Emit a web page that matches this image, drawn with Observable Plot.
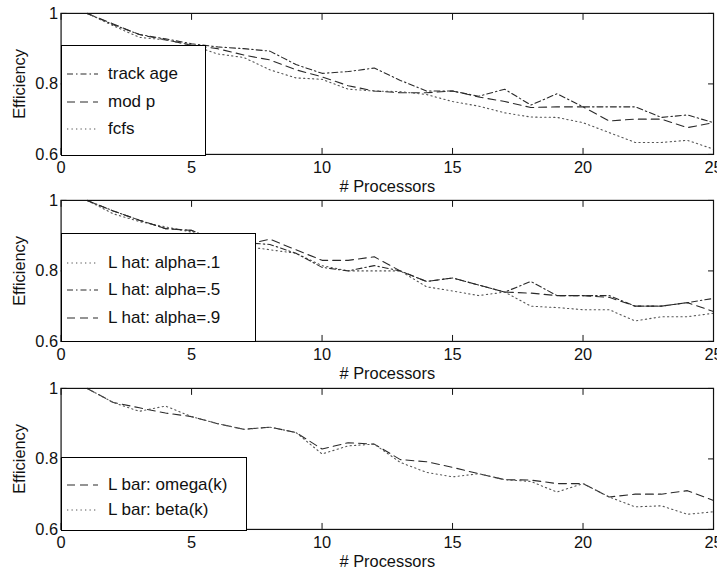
<!DOCTYPE html>
<html><head><meta charset="utf-8">
<script src="https://cdn.jsdelivr.net/npm/d3@7"></script>
<script src="https://cdn.jsdelivr.net/npm/@observablehq/plot@0.6"></script>
<style>
html,body{margin:0;padding:0;background:#fff;overflow:hidden;width:717px;height:573px;}
#root{position:relative;width:717px;height:573px;overflow:hidden;font-family:"Liberation Sans",Arial,Helvetica,sans-serif;}
.panel{position:absolute;left:0;}
.legend{position:absolute;background:#fff;border:1px solid #000;box-sizing:border-box;}
.legend .row{position:absolute;left:0;height:20px;display:flex;align-items:center;font-size:17px;color:#111;white-space:nowrap;}
.legend svg{margin-left:5px;margin-right:10px;}
</style></head><body><div id="root"></div>
<script>
// ---- data ----
const processors = [1,2,3,4,5,6,7,8,9,10,11,12,13,14,15,16,17,18,19,20,21,22,23,24,25];
const trackAge = [1.0,0.968,0.94,0.928,0.914,0.905,0.90,0.893,0.855,0.83,0.835,0.845,0.81,0.78,0.78,0.765,0.785,0.74,0.772,0.735,0.735,0.735,0.705,0.712,0.69];
const modP     = [1.0,0.97,0.94,0.925,0.91,0.90,0.882,0.868,0.84,0.82,0.795,0.78,0.775,0.775,0.78,0.763,0.75,0.733,0.735,0.735,0.695,0.70,0.70,0.676,0.69];
const fcfs     = [1.0,0.965,0.932,0.925,0.91,0.885,0.875,0.84,0.817,0.813,0.785,0.78,0.778,0.77,0.75,0.737,0.718,0.706,0.705,0.69,0.662,0.634,0.634,0.64,0.615];
const alpha1   = [1.0,0.962,0.94,0.925,0.91,0.885,0.87,0.86,0.85,0.815,0.80,0.80,0.80,0.755,0.743,0.73,0.74,0.70,0.696,0.69,0.69,0.658,0.67,0.67,0.68];
const alpha5   = [1.0,0.97,0.944,0.92,0.915,0.885,0.88,0.875,0.85,0.81,0.80,0.815,0.80,0.77,0.78,0.76,0.74,0.77,0.73,0.73,0.73,0.70,0.70,0.71,0.722];
const alpha9   = [1.0,0.97,0.944,0.92,0.915,0.88,0.873,0.89,0.86,0.83,0.83,0.84,0.80,0.77,0.78,0.76,0.74,0.737,0.73,0.73,0.725,0.70,0.70,0.71,0.685];
const omegaK   = [1.0,0.96,0.945,0.93,0.92,0.90,0.884,0.89,0.875,0.828,0.846,0.842,0.798,0.792,0.776,0.758,0.741,0.74,0.73,0.73,0.692,0.70,0.70,0.71,0.682];
const betaK    = [1.0,0.96,0.935,0.95,0.92,0.90,0.884,0.89,0.875,0.814,0.837,0.842,0.79,0.762,0.749,0.758,0.741,0.736,0.706,0.73,0.692,0.664,0.667,0.643,0.65];
const xTicks = [0,5,10,15,20,25];
const yTicks = [0.6,0.8,1];
const xLabel = "# Processors";
const yLabel = "Efficiency";
const panel1Names = ["track age","mod p","fcfs"];
const panel2Names = ["L hat: alpha=.1","L hat: alpha=.5","L hat: alpha=.9"];
const panel3Names = ["L bar: omega(k)","L bar: beta(k)"];

// ---- styles ----
const STY = {
  dashdot: {stroke:"#2a2a2a", dash:"6,3,1.5,3", width:1.1},
  dashed:  {stroke:"#2a2a2a", dash:"8,5", width:1.1},
  dotted:  {stroke:"#555", dash:"1.3,3.2", width:1.1}
};

const panels = [
  {top:0, height:187, names:panel1Names, series:[trackAge,modP,fcfs], styles:["dashdot","dashed","dotted"],
   legend:{top:45, width:145, height:111, rows:[28,56,83]}},
  {top:187, height:188, names:panel2Names, series:[alpha1,alpha5,alpha9], styles:["dotted","dashdot","dashed"],
   legend:{top:233, width:195, height:109, rows:[29,56,84]}},
  {top:375, height:198, names:panel3Names, series:[omegaK,betaK], styles:["dashed","dotted"],
   legend:{top:457, width:186, height:74, rows:[27,52]}}
];

const root = document.getElementById("root");

panels.forEach(p => {
  const rows = [];
  p.series.forEach((vals, si) => {
    vals.forEach((v, i) => rows.push({name: p.names[si], style: p.styles[si], x: processors[i], y: v}));
  });
  const lineMarks = p.names.map((nm, si) => {
    const s = STY[p.styles[si]];
    return Plot.line(rows.filter(r => r.name === nm), {x:"x", y:"y", stroke:s.stroke, strokeWidth:s.width, strokeDasharray:s.dash});
  });
  const chart = Plot.plot({
    width: 722, height: p.height,
    marginLeft: 61, marginRight: 4, marginTop: 13, marginBottom: p.height - 13 - 142,
    x: {domain:[0,25]},
    y: {domain:[0.6,1]},
    style: {background:"transparent", overflow:"visible", fontFamily:'"Liberation Sans",Arial,Helvetica,sans-serif', fontSize:"16.5px", color:"#111"},
    marks: [
      ...lineMarks,
      Plot.frame({stroke:"#111", strokeWidth:1.2}),
      Plot.axisX(xTicks, {anchor:"bottom", tickSize:0, tickPadding:7, label:xLabel, labelArrow:"none", labelAnchor:"center", labelOffset:38}),
      Plot.axisX(xTicks, {anchor:"bottom", tickSize:-6, tickFormat:() => "", label:null}),
      Plot.axisX(xTicks, {anchor:"top", tickSize:-6, tickFormat:() => "", label:null}),
      Plot.axisY(yTicks, {anchor:"left", tickSize:0, tickPadding:3, tickFormat:d => String(d), label:yLabel, labelArrow:"none", labelAnchor:"center", labelOffset:48}),
      Plot.axisY(yTicks, {anchor:"left", tickSize:-6, tickFormat:() => "", label:null}),
      Plot.axisY(yTicks, {anchor:"right", tickSize:-6, tickFormat:() => "", label:null})
    ]
  });
  const wrap = document.createElement("div");
  wrap.className = "panel";
  wrap.style.top = p.top + "px";
  wrap.appendChild(chart);
  root.appendChild(wrap);
});

// legends (drawn over the plots, as in the original)
panels.forEach(p => {
  const lg = d3.select(root).append("div").attr("class","legend")
    .style("left","61px").style("top", p.legend.top + "px")
    .style("width", p.legend.width + "px").style("height", p.legend.height + "px");
  p.names.forEach((nm, si) => {
    const s = STY[p.styles[si]];
    const row = lg.append("div").attr("class","row").style("top", (p.legend.rows[si] - 10) + "px");
    const sv = row.append("svg").attr("width",31).attr("height",10);
    sv.append("line").attr("x1",0).attr("x2",31).attr("y1",5).attr("y2",5)
      .attr("stroke", s.stroke).attr("stroke-width", s.width).attr("stroke-dasharray", s.dash);
    row.append("span").text(nm);
  });
});
</script></body></html>
